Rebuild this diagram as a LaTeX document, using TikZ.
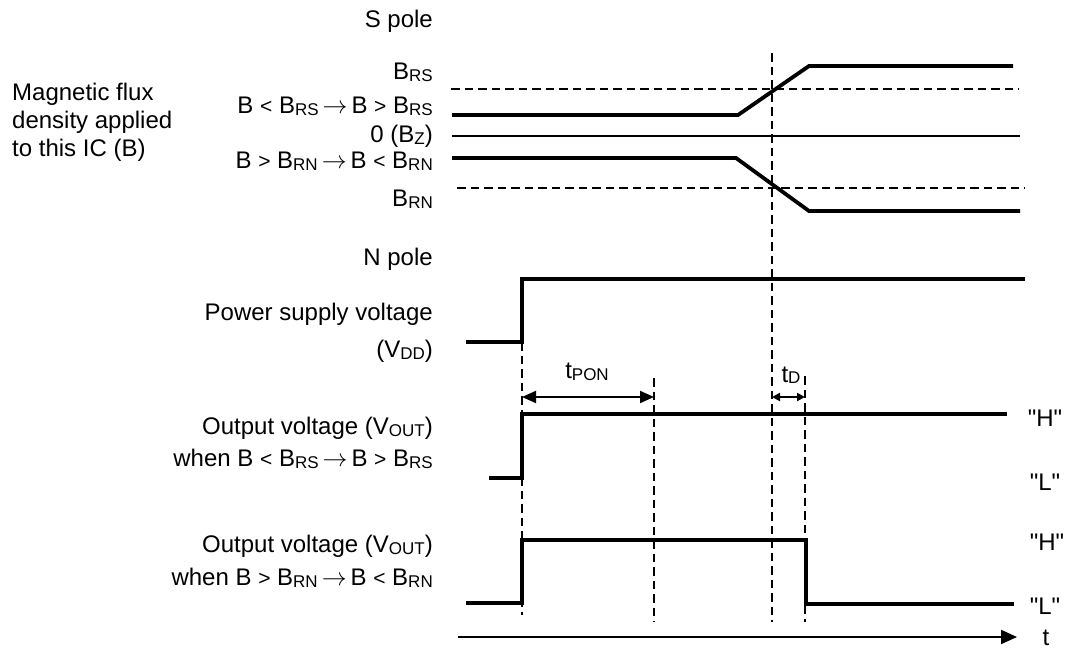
\documentclass[tikz,border=0pt]{standalone}
\usepackage{fontspec}
\setmainfont{Liberation Sans}
\usetikzlibrary{arrows.meta, positioning, calc}

% small lowered index letters, as in B_RS
\newcommand{\lo}[1]{\raisebox{-1.5pt}{\fontsize{17}{17}\selectfont #1}}
\newcommand{\lsym}{{\fontsize{21}{21}\selectfont <}}
\newcommand{\gsym}{{\fontsize{21}{21}\selectfont >}}
\newcommand{\goes}{\,$\rightarrow$\,}
\newcommand{\qt}[1]{\textquotedbl#1\textquotedbl}

\tikzset{
  lbl/.style={anchor=mid east, inner sep=0pt, font=\fontsize{24}{26}\selectfont},
  lvl/.style={inner sep=0pt, font=\fontsize{24}{26}\selectfont},
  wave/.style={line width=3.8pt, line join=miter},
  guide/.style={line width=2.5pt, dash pattern=on 8.5pt off 5pt},
  span/.style={line width=2pt, {Triangle[length=14pt,width=12pt]}-{Triangle[length=14pt,width=12pt]}},
  shortspan/.style={line width=2pt, {Triangle[length=8pt,width=8pt]}-{Triangle[length=8pt,width=8pt]}},
}

\begin{document}
\begin{tikzpicture}[x=1pt, y=-1pt]
\useasboundingbox (0,0) rectangle (1068,651);

% labels on the left
\node[anchor=west, align=left, inner sep=0pt, font=\fontsize{24}{28}\selectfont] (bname) at (12,122) {Magnetic flux\\density applied\\to this IC (B)};

\foreach \nm/\yy/\txt in {spole/25/S pole, brs/77/B\lo{RS}, srise/111/B \lsym{} B\lo{RS}\goes{}B \gsym{} B\lo{RS},
    zero/140/0 (B\lo{Z}), nfall/166/B \gsym{} B\lo{RN}\goes{}B \lsym{} B\lo{RN}, brn/204/B\lo{RN}, npole/263/N pole,
    vdda/318/Power supply voltage, vddb/355/(V\lo{DD}), outaa/432/Output voltage (V\lo{OUT}),
    outab/464/when B \lsym{} B\lo{RS}\goes{}B \gsym{} B\lo{RS}, outba/550/Output voltage (V\lo{OUT}),
    outbb/583/when B \gsym{} B\lo{RN}\goes{}B \lsym{} B\lo{RN}} {
    \node[lbl] (\nm) at (433,\yy) {\txt};
}

% magnetic flux density
\draw[guide] (451,89) -- (1019,89);
\draw[guide] (457,188) -- (1025,188);
\draw[line width=1.8pt] (452,136) -- (1020,136);
\draw[wave] (452,115) -- (738,115) -- (809,66) -- (1013,66);
\draw[wave] (452,158) -- (736,158) -- (809,211) -- (1020,211);

% supply and outputs
\draw[wave] (466,342) -- (522,342) -- (522,279) -- (1025,279);
\draw[wave] (489,478) -- (522,478) -- (522,414) -- (1007,414);
\draw[wave] (466,603) -- (522,603) -- (522,540) -- (806,540) -- (806,604) -- (1014,604);

% time marks
\draw[guide] (522,342) -- (522,615);
\draw[guide] (654,378) -- (654,622);
\draw[guide] (772,53) -- (772,622);
\draw[guide] (805,376) -- (805,622);

\coordinate (pona) at (522,397);
\coordinate (ponb) at (654,397);
\coordinate (tda) at (772,397);
\coordinate (tdb) at (805,397);
\draw[span] (pona) -- (ponb);
\draw[shortspan] (tda) -- (tdb);
\node[lvl] (tpon) at (587,372) {t\lo{PON}};
\node[lvl] (tdl) at (791,375) {t\lo{D}};

% levels
\node[lvl] (ha) at (1045,418) {\qt{H}};
\node[lvl] (la) at (1045,482) {\qt{L}};
\node[lvl] (hb) at (1047,542) {\qt{H}};
\node[lvl] (lb) at (1045,606) {\qt{L}};

% time axis
\coordinate (tstart) at (458,637);
\coordinate (tend) at (1017,637);
\draw[line width=2pt, -{Triangle[length=16pt,width=14pt]}] (tstart) -- (tend);
\node[lvl] (tlab) at (1046,638) {t};

\end{tikzpicture}
\end{document}
